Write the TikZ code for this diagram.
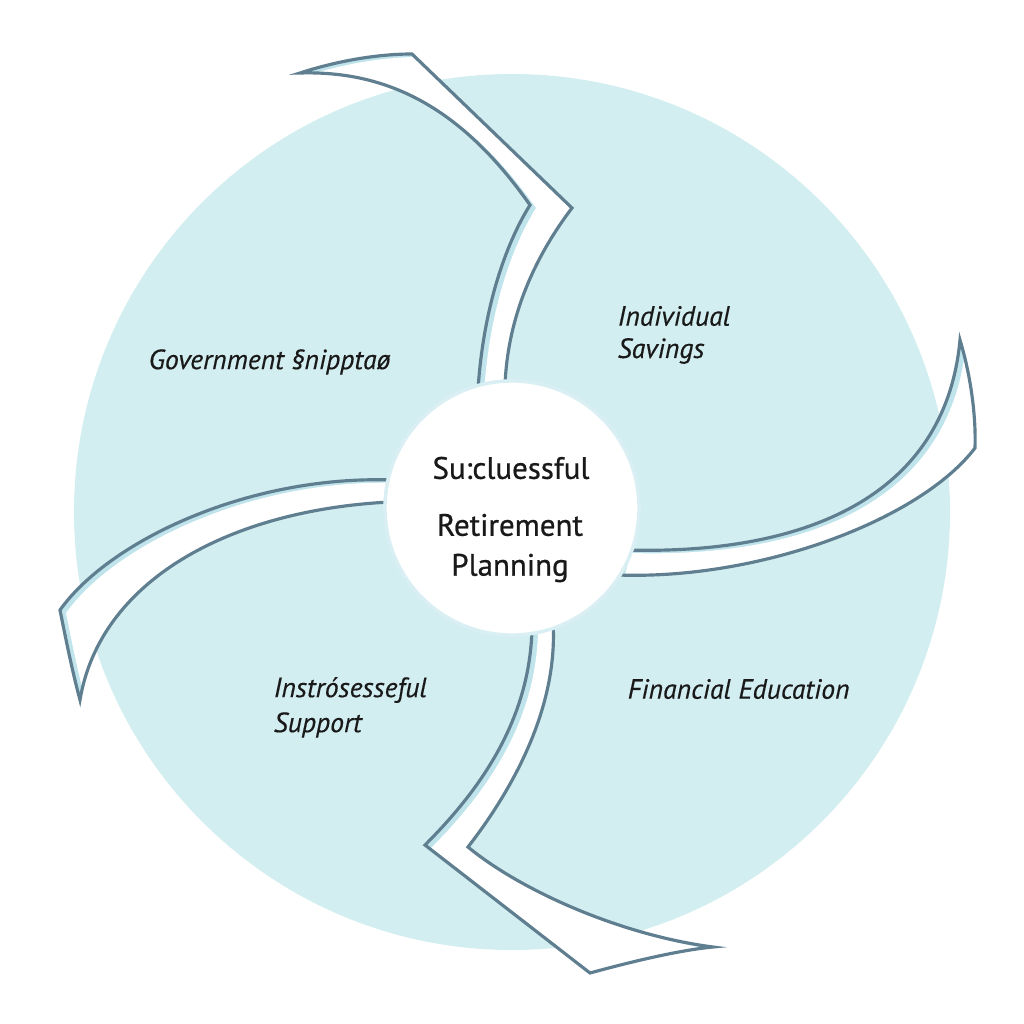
\documentclass[tikz,border=0pt]{standalone}
\usepackage{fontspec}
\setmainfont{PT Sans}[ItalicFeatures={FakeBold=0.4}]
\newfontfamily\centerfont{PT Sans}[FakeBold=0.7]
\definecolor{disc}{HTML}{D3EEF1}
\definecolor{edge}{HTML}{5F7E90}
\definecolor{bandshade}{HTML}{BFE4EB}
\tikzset{
  lbl/.style={anchor=west, font=\fontsize{7.9}{10}\selectfont\itshape, text=black!90, inner sep=0pt},
  ctr/.style={anchor=center, font=\centerfont\fontsize{8.8}{11}\selectfont, text=black!90, inner sep=0pt},
  outline/.style={draw=edge, line width=0.9pt, line join=miter}
}
\def\bandA{(478,390) .. controls (483,310) and (505,245) .. (530,205)
  .. controls (470,120) and (400,70) .. (300,73)
  .. controls (340,60) and (380,54) .. (412,54) -- (572,208)
  .. controls (540,250) and (508,310) .. (505,385) -- cycle}
\def\bandB{(625,550) .. controls (800,555) and (945,500) .. (960,340)
  .. controls (972,380) and (976,420) .. (975,448)
  .. controls (920,520) and (760,580) .. (618,575) -- cycle}
\def\bandC{(532,628) .. controls (530,720) and (480,790) .. (425,845)
  -- (590,973) .. controls (630,962) and (680,950) .. (713,947)
  .. controls (620,935) and (520,890) .. (468,847)
  .. controls (520,780) and (558,700) .. (553,622) -- cycle}
\def\bandD{(392,480) .. controls (250,475) and (110,540) .. (60,610)
  .. controls (66,640) and (72,670) .. (80,700)
  .. controls (100,580) and (230,510) .. (390,502) -- cycle}
\begin{document}
\begin{tikzpicture}[x=0.01cm,y=-0.01cm]
\useasboundingbox[fill=white] (0,0) rectangle (1024,1024);
\fill[disc] (512,512) circle[radius=438];

% bands: light shade inside, white body offset, outline on top
\foreach \b in {\bandA,\bandB,\bandC,\bandD}{
  \begin{scope}
    \clip \b;
    \fill[bandshade] \b;
    \begin{scope}[xshift=0.06cm,yshift=-0.03cm]
      \fill[white] \b;
    \end{scope}
  \end{scope}
  \draw[outline] \b;
}

% centre circle
\node[circle, fill=white, draw=bandshade!60, line width=1pt, minimum size=2.54cm, inner sep=0pt] (hub) at (512,508) {};
\node[ctr] (c1) at (511,468) {Su:cluessful};
\node[ctr] (c2) at (510,525) {Retirement};
\node[ctr] (c3) at (510,568) {Planning};

% labels
\node[lbl] (gov) at (148,362) {Government §nipptaø};
\node[lbl] (ind1) at (617,316) {Individual};
\node[lbl] (ind2) at (617,351) {Savings};
\node[lbl] (ins1) at (273,690) {Instrósesseful};
\node[lbl] (ins2) at (273,725) {Support};
\node[lbl] (fin) at (627,689) {Financial Education};
\end{tikzpicture}
\end{document}
